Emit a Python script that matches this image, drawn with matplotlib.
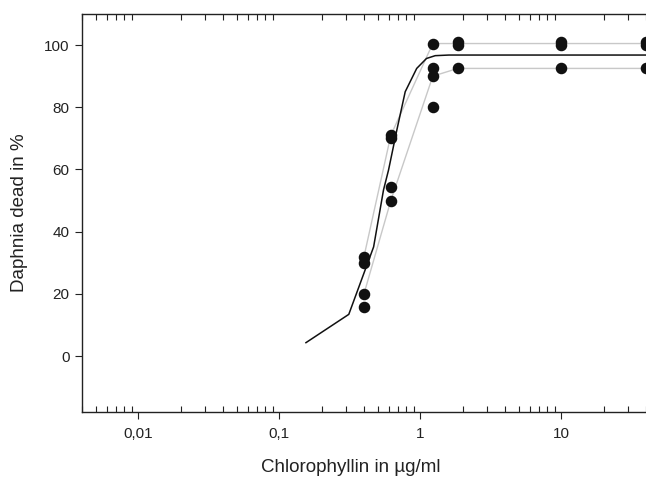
import matplotlib
matplotlib.use('Agg')
import matplotlib.pyplot as plt
from matplotlib.ticker import LogLocator, NullFormatter
import numpy as np

plt.rcParams['font.family'] = ['Liberation Sans', 'DejaVu Sans']

# replicate measurements (concentration in ug/ml, % dead)
conc_pts = [0.4, 0.4, 0.4, 0.4,
            0.62, 0.62, 0.62, 0.62,
            1.23, 1.23, 1.23, 1.23,
            1.85, 1.85, 1.85,
            10, 10, 10,
            40, 40, 40]
dead_pts = [32, 30, 20, 15.7,
            71, 70, 54.5, 50,
            100.5, 92.5, 90, 80,
            100, 101, 92.5,
            100, 101, 92.5,
            100, 101, 92.5]

# upper / lower replicate lines (grey)
conc_upper = [0.4, 0.62, 1.23, 1.85, 10, 40]
dead_upper = [32, 71, 100.5, 100.5, 100.5, 100.5]
conc_lower = [0.4, 0.62, 1.23, 1.85, 10, 40]
dead_lower = [20, 50, 90, 92.5, 92.5, 92.5]

# fitted curve (black)
conc_fit = [0.155, 0.312, 0.468, 0.55, 0.597, 0.684, 0.784, 0.946, 1.11, 1.28, 1.6, 3, 10, 40]
dead_fit = [4.3, 13.4, 35.1, 53.4, 59.8, 72.7, 85.0, 92.5, 95.7, 96.6, 96.8, 96.8, 96.8, 96.8]

xticks = [0.01, 0.1, 1, 10]
xticklabels = ['0,01', '0,1', '1', '10']
yticks = [0, 20, 40, 60, 80, 100]

fig = plt.figure(figsize=(6.46, 4.78), dpi=100)
ax = fig.add_axes([82/646, 1 - 412/478, 1 - 82/646, (412 - 14)/478])

ax.plot(conc_upper, dead_upper, color='#c8c8c8', lw=1.0, zorder=1)
ax.plot(conc_lower, dead_lower, color='#c8c8c8', lw=1.0, zorder=1)
ax.plot(conc_fit, dead_fit, color='#111111', lw=1.1, zorder=2)
ax.plot(conc_pts, dead_pts, 'o', color='#111111', ms=7.3, mec='#111111', zorder=3, clip_on=True)

ax.set_xscale('log')
ax.set_xlim(0.004, 40)
ax.set_ylim(-18, 110)

ax.set_xticks(xticks, labels=xticklabels)
ax.xaxis.set_minor_locator(LogLocator(base=10, subs=np.arange(2, 10), numticks=20))
ax.xaxis.set_minor_formatter(NullFormatter())
ax.set_yticks(yticks)

ax.spines['right'].set_visible(False)
for s in ['left', 'top', 'bottom']:
    ax.spines[s].set_linewidth(1.0)
    ax.spines[s].set_color('#222222')

ax.tick_params(axis='x', which='major', direction='out', length=5, width=0.8,
               colors='#222222', labelsize=11, pad=6, top=False)
ax.tick_params(axis='x', which='minor', direction='in', length=4, width=0.8,
               color='#222222', top=True, bottom=True)
ax.tick_params(axis='y', which='major', direction='out', length=5, width=0.8,
               colors='#222222', labelsize=11, pad=4, right=False)
for lab in ax.get_xticklabels() + ax.get_yticklabels():
    lab.set_color('#222222')

ax.set_xlabel('Chlorophyllin in µg/ml', fontsize=13.5, color='#222222')
ax.set_ylabel('Daphnia dead in %', fontsize=13.5, color='#222222')
ax.xaxis.set_label_coords(0.477, -0.118)
ax.yaxis.set_label_coords(-0.096, 0.5)

fig.savefig('out.png', dpi=100)
